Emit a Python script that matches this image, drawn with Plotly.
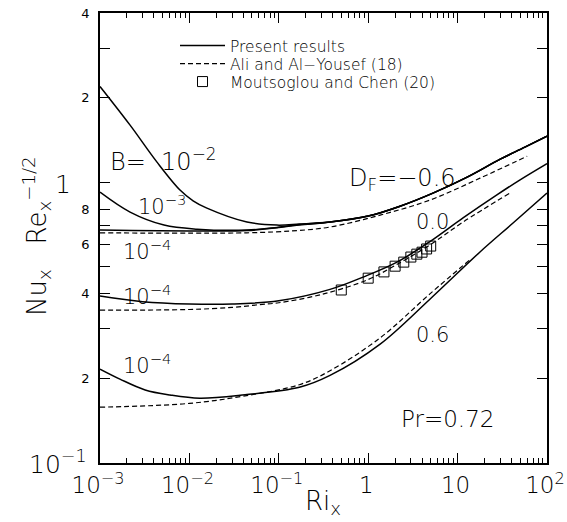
import plotly.graph_objects as go

FONT = "DejaVu Sans Light, DejaVu Sans"
FONT_REG = "DejaVu Sans"

# ---- data (Ri_x, Nu_x Re_x^-1/2) ----
# D_F = -0.6 (B = 1e-2, 1e-3, 1e-4 share the rising branch)
ri_m06_b2 = [0.001, 0.00217, 0.00434, 0.00785, 0.011, 0.0157, 0.044, 0.0955, 0.17, 0.374, 1, 2.27, 5.3, 12.8, 30, 56.6, 100]
nu_m06_b2 = [2.19, 1.595, 1.178, 0.937, 0.858, 0.808, 0.721, 0.703, 0.709, 0.721, 0.757, 0.821, 0.914, 1.042, 1.207, 1.332, 1.458]
ri_m06_b3 = [0.001, 0.00217, 0.0052, 0.0122, 0.044, 0.0955, 0.17, 0.374, 1, 2.27, 5.3, 12.8, 30, 56.6, 100]
nu_m06_b3 = [0.921, 0.782, 0.703, 0.68, 0.675, 0.69, 0.706, 0.721, 0.757, 0.821, 0.914, 1.042, 1.207, 1.332, 1.458]
ri_m06_b4 = [0.001, 0.0122, 0.044, 0.17, 0.374, 1, 2.27, 5.3, 12.8, 30, 56.6, 100]
nu_m06_b4 = [0.675, 0.670, 0.672, 0.703, 0.721, 0.757, 0.821, 0.914, 1.042, 1.207, 1.332, 1.458]
ri_m06_ali = [0.001, 0.044, 0.16, 0.374, 1.36, 4.9, 17.8, 60]
nu_m06_ali = [0.66, 0.66, 0.672, 0.692, 0.763, 0.863, 1.033, 1.237]

# D_F = 0.0, B = 1e-4
ri_00 = [0.001, 0.003, 0.01, 0.03, 0.1, 0.374, 0.875, 2.1, 4.9, 11.5, 27.5, 50, 100]
nu_00 = [0.393, 0.375, 0.368, 0.368, 0.378, 0.415, 0.459, 0.519, 0.614, 0.746, 0.901, 1.019, 1.164]
ri_00_ali = [0.001, 0.01, 0.03, 0.06, 0.1, 0.3, 1, 2, 5, 11.5, 38.5]
nu_00_ali = [0.350, 0.352, 0.358, 0.366, 0.372, 0.398, 0.45, 0.505, 0.60, 0.721, 0.914]
ri_mc = [0.5, 1, 1.5, 2, 2.5, 3, 3.5, 4, 4.5, 5]
nu_mc = [0.413, 0.455, 0.479, 0.502, 0.519, 0.541, 0.554, 0.563, 0.578, 0.592]

# D_F = 0.6, B = 1e-4
ri_06 = [0.001, 0.00167, 0.0032, 0.00607, 0.0131, 0.042, 0.17, 0.374, 1.36, 4.9, 17.8, 41.7, 100]
nu_06 = [0.216, 0.199, 0.182, 0.1746, 0.170, 0.175, 0.186, 0.205, 0.265, 0.383, 0.564, 0.715, 0.914]
ri_06_ali = [0.001, 0.01, 0.04, 0.17, 0.374, 1.36, 4.9, 13.8]
nu_06_ali = [0.158, 0.163, 0.173, 0.190, 0.213, 0.279, 0.400, 0.530]

x_tickvals = [0.001, 0.01, 0.1, 1, 10, 100]
x_ticktext = ["10<sup>−3</sup>", "10<sup>−2</sup>", "10<sup>−1</sup>", "1", "10", "10<sup>2</sup>"]
x_minor = [m * 10.0 ** e for e in range(-3, 2) for m in range(2, 10)]
y_tickvals = [0.2, 0.3, 0.4, 0.5, 0.6, 0.7, 0.8, 1, 2, 3, 4]
y_ticktext = ["2", "", "4", "", "6", "", "8", "", "2", "", "4"]

# plot area in pixels
L, R, T, B = 100, 547, 13, 463
W, H = 567, 522


def px(xp):
    return (xp - L) / (R - L)


def py(yp):
    return (B - yp) / (B - T)


solid = dict(color="black", width=1.5, shape="spline", smoothing=1.0)
dashed = dict(color="black", width=1.2, dash="5px,3px", shape="spline", smoothing=1.0)

fig = go.Figure()
fig.add_trace(go.Scatter(x=ri_m06_b2, y=nu_m06_b2, mode="lines", line=solid,
                         name="Present results", legend="legend"))
for rx, ny in [(ri_m06_b3, nu_m06_b3), (ri_m06_b4, nu_m06_b4), (ri_00, nu_00), (ri_06, nu_06)]:
    fig.add_trace(go.Scatter(x=rx, y=ny, mode="lines", line=solid, showlegend=False))
fig.add_trace(go.Scatter(x=ri_m06_ali, y=nu_m06_ali, mode="lines", line=dashed,
                         name="Ali and Al−Yousef (18)", legend="legend2"))
for rx, ny in [(ri_00_ali, nu_00_ali), (ri_06_ali, nu_06_ali)]:
    fig.add_trace(go.Scatter(x=rx, y=ny, mode="lines", line=dashed, showlegend=False))
fig.add_trace(go.Scatter(x=ri_mc, y=nu_mc, mode="markers",
                         marker=dict(symbol="square-open", size=10, color="black", line=dict(width=1)),
                         name="Moutsoglou and Chen (20)", legend="legend3"))

leg_common = dict(x=px(175), xanchor="left", yanchor="middle", bgcolor="rgba(0,0,0,0)",
                  font=dict(family=FONT, size=15.5, color="black"), itemwidth=45)
fig.update_layout(
    legend=dict(y=py(46), **leg_common),
    legend2=dict(y=py(64), **leg_common),
    legend3=dict(y=py(82), **leg_common),
)

axis_common = dict(type="log", showline=True, linecolor="black", linewidth=1.5, mirror="ticks",
                   ticks="inside", ticklen=10, tickwidth=1.2, tickcolor="black",
                   showgrid=False, zeroline=False, automargin=False)
fig.update_xaxes(range=[-3, 2], tickmode="array", tickvals=x_tickvals, ticktext=x_ticktext,
                 tickfont=dict(family=FONT, size=23, color="black"), ticklabelshift=-2,
                 ticklabelstandoff=1,
                 minor=dict(tickmode="array", tickvals=x_minor, ticks="inside", ticklen=5,
                            tickwidth=1, tickcolor="black", showgrid=False),
                 **axis_common)
fig.update_yaxes(range=[-1, 0.60206], tickmode="array", tickvals=y_tickvals, ticktext=y_ticktext,
                 tickfont=dict(family=FONT_REG, size=13, color="black"), ticklabelstandoff=6,
                 **axis_common)

ann_font = dict(family=FONT, color="black")
anns = [
    ("1", 73, 184, 25, "right", "middle"),
    ("10<sup>−1</sup>", 89, 462, 25, "right", "middle"),
    ("B=\u00a0\u00a010<sup>−2</sup>", 108, 160, 24, "left", "middle"),
    ("10<sup>−3</sup>", 136, 205, 21, "left", "middle"),
    ("10<sup>−4</sup>", 121, 250, 21, "left", "middle"),
    ("10<sup>−4</sup>", 121, 295, 21, "left", "middle"),
    ("10<sup>−4</sup>", 121, 364, 21, "left", "middle"),
    ("D<sub>F</sub>=−0.6", 347, 179, 24, "left", "middle"),
    ("0.0", 414, 222, 21, "left", "middle"),
    ("0.6", 414, 335, 21, "left", "middle"),
    ("Pr=0.72", 399, 419, 23, "left", "middle"),
    ("Ri<sub>x</sub>", 323, 502, 26, "center", "middle"),
]
for text, xx, yy, size, xa, ya in anns:
    fig.add_annotation(text=text, x=px(xx), y=py(yy), xref="paper", yref="paper",
                       xanchor=xa, yanchor=ya, showarrow=False,
                       font=dict(size=size, **ann_font))

fig.add_annotation(text="Nu<sub>x</sub>\u00a0\u00a0\u00a0Re<sub>x</sub><sup>−1/2</sup>",
                   x=px(36), y=py(236), xref="paper", yref="paper", textangle=-90,
                   xanchor="center", yanchor="middle", showarrow=False,
                   font=dict(size=26, **ann_font))

fig.update_layout(
    width=W, height=H,
    margin=dict(l=L, r=W - R, t=T, b=H - B),
    paper_bgcolor="white", plot_bgcolor="white",
    font=dict(family=FONT, color="black"),
)

fig.write_html("out.html")
